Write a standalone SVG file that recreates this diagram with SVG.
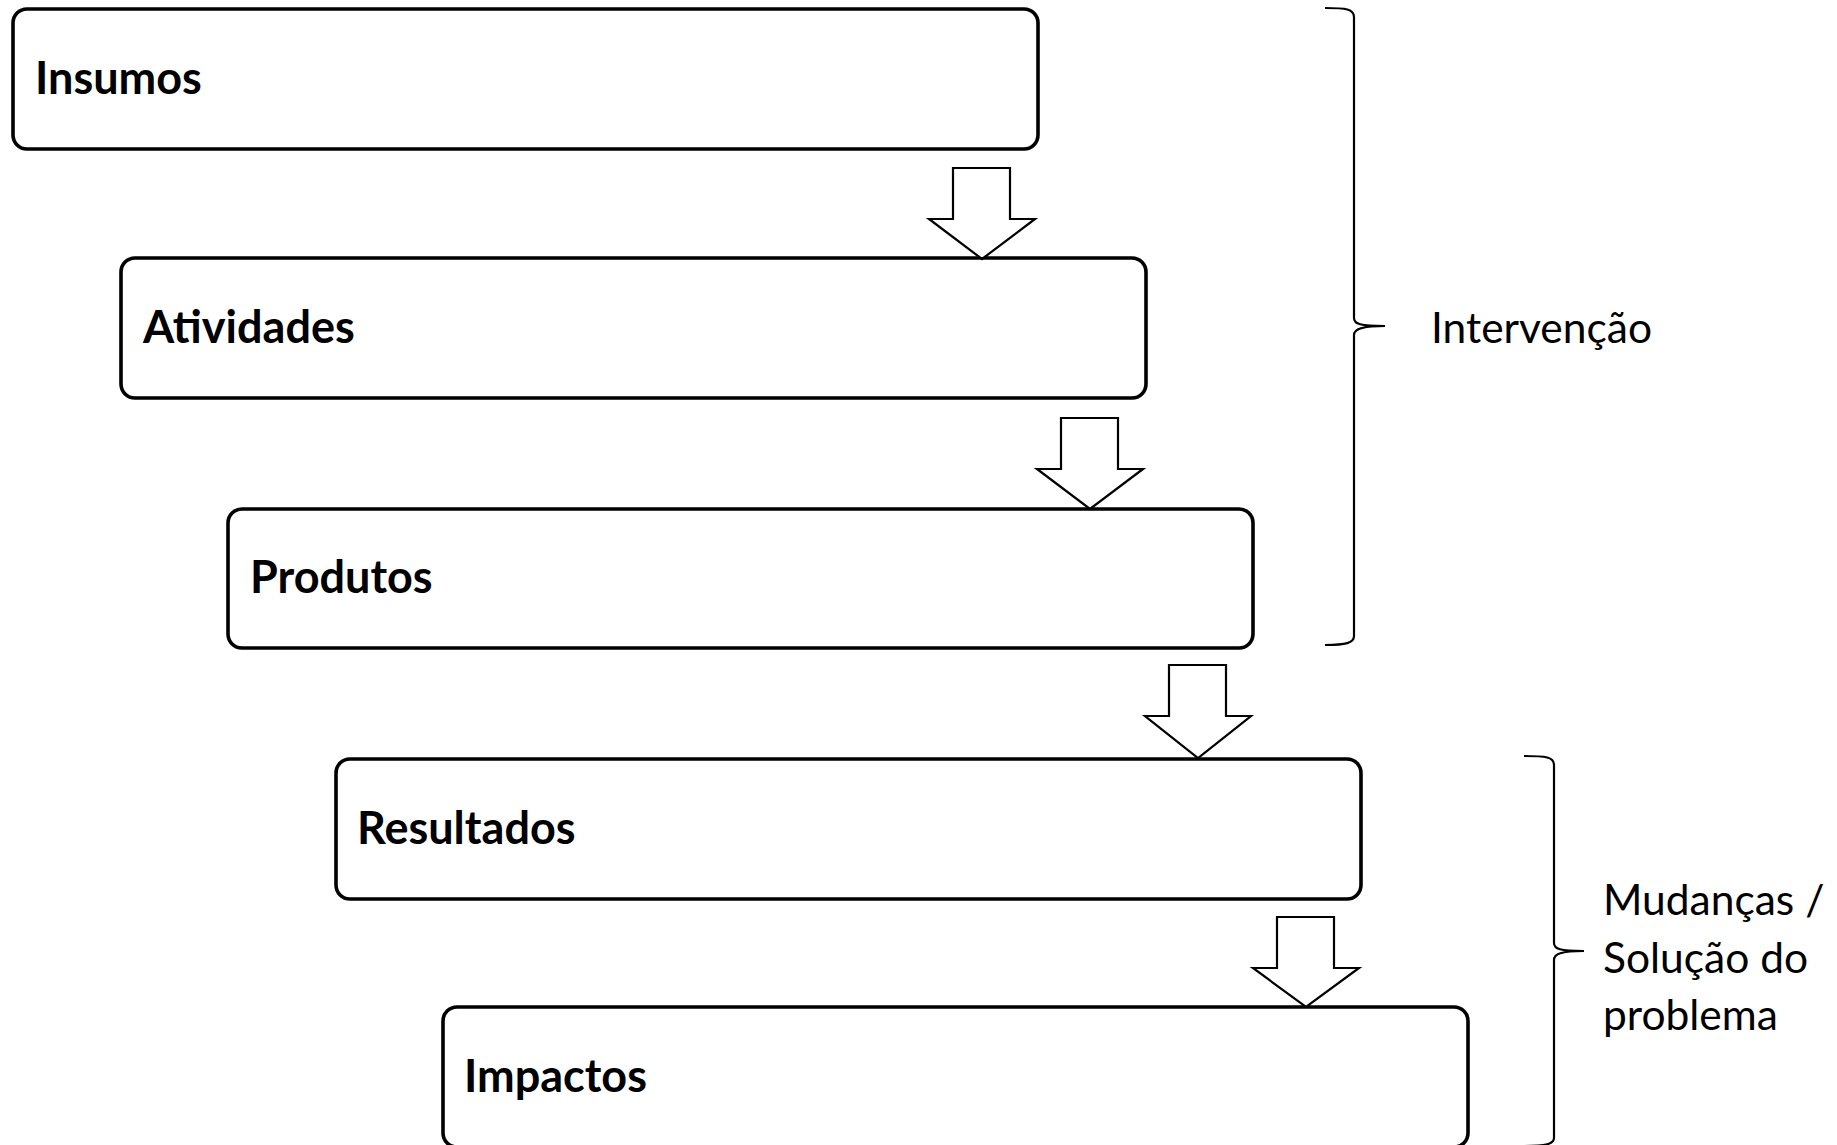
<svg xmlns="http://www.w3.org/2000/svg" width="1837" height="1145" viewBox="0 0 1837 1145">
  <style>
    .box { fill: #fff; stroke: #000; stroke-width: 3.6; }
    .lbl { font-family: Lato, "Liberation Sans", sans-serif; font-weight: bold; font-size: 45px; fill: #000; }
    .arrow { fill: #fff; stroke: #000; stroke-width: 2.2; stroke-linejoin: miter; }
    .brace { fill: none; stroke: #000; stroke-width: 2.2; }
    .note { font-family: Lato, "Liberation Sans", sans-serif; font-size: 42.5px; fill: #000; }
  </style>
  <rect width="1837" height="1145" fill="#fff"/>

  <g id="node-insumos">
    <rect class="box" x="13" y="9" width="1025" height="140" rx="14"/>
    <text class="lbl" x="35" y="94">Insumos</text>
  </g>
  <g id="node-atividades">
    <rect class="box" x="121" y="258" width="1025" height="140" rx="14"/>
    <text class="lbl" x="143" y="343">Atividades</text>
  </g>
  <g id="node-produtos">
    <rect class="box" x="228" y="509" width="1025" height="139" rx="14"/>
    <text class="lbl" x="250" y="593">Produtos</text>
  </g>
  <g id="node-resultados">
    <rect class="box" x="336" y="759" width="1025" height="140" rx="14"/>
    <text class="lbl" x="357" y="844">Resultados</text>
  </g>
  <g id="node-impactos">
    <rect class="box" x="443" y="1007" width="1025" height="140" rx="14"/>
    <text class="lbl" x="464" y="1092">Impactos</text>
  </g>

  <g id="connectors">
    <polygon class="arrow" points="953,168 1010,168 1010,219 1035,219 982,259 929,219 953,219"/>
    <polygon class="arrow" points="1061,418 1118,418 1118,469 1143,469 1090,509 1037,469 1061,469"/>
    <polygon class="arrow" points="1169,665 1226,665 1226,716 1251,716 1198,758 1145,716 1169,716"/>
    <polygon class="arrow" points="1277,917 1334,917 1334,968 1359,968 1306,1007 1253,968 1277,968"/>
  </g>

  <g id="group-intervencao">
    <path class="brace" d="M1325,8 C1346,8 1354,9 1354,17 L1354,318 C1354,324 1360,326 1385,326 M1385,326 C1362,326 1354,329 1354,335 L1354,636 C1354,643 1346,645 1325,645"/>
    <text class="note" x="1431" y="343">Intervenção</text>
  </g>

  <g id="group-mudancas">
    <path class="brace" d="M1524,756 C1546,756 1554,757 1554,765 L1554,943 C1554,949 1560,951 1584,951 M1584,951 C1561,951 1554,954 1554,960 L1554,1138 C1554,1144 1546,1146 1524,1146"/>
    <text class="note" x="1603" y="915">Mudanças /</text>
    <text class="note" x="1603" y="973">Solução do</text>
    <text class="note" x="1603" y="1030">problema</text>
  </g>
</svg>
